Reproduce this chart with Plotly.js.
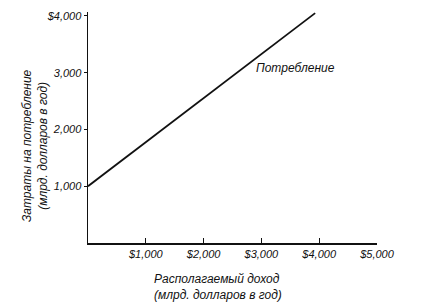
<!DOCTYPE html>
<html><head><meta charset="utf-8">
<script src="https://cdn.plot.ly/plotly-3.0.1.min.js"></script>
<style>html,body{margin:0;padding:0;background:#fff}</style>
</head><body><div id="chart" style="width:445px;height:307px"></div>
<script>
// Data
const income = [0, 3930];          // disposable income, bn $/yr
const consumption = [1000, 4050];  // consumption, bn $/yr
const xTickVals = [1000, 2000, 3000, 4000, 5000];
const xTickText = ["$1,000", "$2,000", "$3,000", "$4,000", "$5,000"];
const yTickVals = [1000, 2000, 3000, 4000];
const yTickText = ["1,000", "2,000", "3,000", "$4,000"];
const lineLabel = "Потребление";
const xTitle = "Располагаемый доход<br>(млрд. долларов в год)";
const yTitle = "Затраты на потребление<br>(млрд. долларов в год)";

const F = {family: "Liberation Sans, Arial, sans-serif", color: "#111", style: "italic"};

Plotly.newPlot("chart", [{
  x: income, y: consumption, mode: "lines", type: "scatter", cliponaxis: false,
  line: {color: "#111", width: 1.8}, hoverinfo: "none"
}], {
  width: 445, height: 307,
  margin: {l: 88, r: 68, t: 12, b: 64},
  paper_bgcolor: "#fff", plot_bgcolor: "#fff",
  showlegend: false,
  xaxis: {
    range: [0, 5000], showgrid: false, zeroline: false,
    showline: true, linecolor: "#111", linewidth: 1.5,
    tickvals: xTickVals, ticktext: xTickText,
    ticks: "inside", ticklen: 5, tickcolor: "#111",
    tickfont: Object.assign({size: 11}, F)
  },
  yaxis: {
    range: [0, 4070], showgrid: false, zeroline: false,
    showline: true, linecolor: "#111", linewidth: 1.5,
    tickvals: yTickVals, ticktext: yTickText,
    ticks: "outside", ticklen: 3, tickcolor: "#111",
    tickfont: Object.assign({size: 11}, F)
  },
  annotations: [
    {text: lineLabel, x: 2880, y: 3080, xref: "x", yref: "y",
     xanchor: "left", yanchor: "middle", showarrow: false,
     font: Object.assign({size: 12}, F)},
    {text: xTitle, xref: "paper", yref: "paper", x: 0.221, y: -0.19,
     xanchor: "left", yanchor: "middle", align: "left", showarrow: false,
     font: Object.assign({size: 12}, F)},
    {text: yTitle, xref: "paper", yref: "paper", x: -0.183, y: 0.42,
     xanchor: "center", yanchor: "middle", textangle: -90, showarrow: false,
     font: Object.assign({size: 12}, F)}
  ]
}, {staticPlot: true});
</script></body></html>
